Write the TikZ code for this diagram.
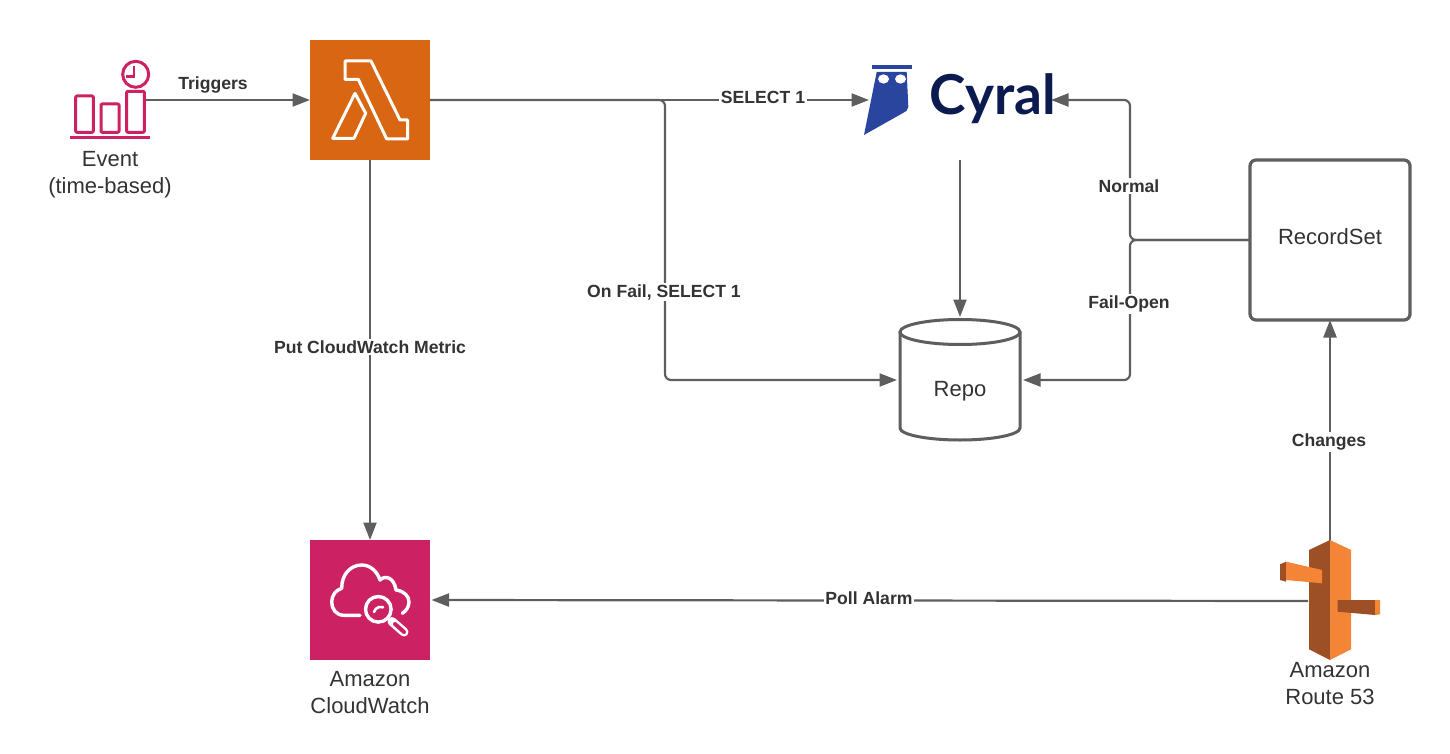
\documentclass[tikz,border=0pt]{standalone}
\usepackage{fontspec}
\setmainfont{Liberation Sans}
\newfontfamily\cyralfont{Lato}
\usetikzlibrary{arrows.meta}
\definecolor{linegrey}{HTML}{5E5E5E}
\definecolor{textgrey}{HTML}{333333}
\definecolor{lambdaorange}{HTML}{D86613}
\definecolor{awspink}{HTML}{CC2264}
\definecolor{rdark}{HTML}{9D5025}
\definecolor{rlight}{HTML}{F58536}
\definecolor{owlblue}{HTML}{2A459E}
\definecolor{cyralnavy}{HTML}{0B1B4F}
\tikzset{
  x=1pt,y=-1pt,
  conn/.style={draw=linegrey,line width=2.2pt,-{Triangle[length=17.5pt,width=13pt]}},
  turn/.style={conn,rounded corners=6pt},
  edgelabel/.style={font=\fontsize{17.6}{20}\selectfont\bfseries,text=textgrey,fill=white,inner sep=1.5pt},
  caption/.style={font=\fontsize{22}{27}\selectfont,text=textgrey,align=center,inner sep=0pt},
  anchorbox/.style={minimum width=#1,minimum height=120pt,inner sep=0pt,outer sep=0pt},
  iconline/.style={line width=3pt,line join=round},
  whiteline/.style={draw=white,line width=3pt,line join=round,line cap=round},
}
\begin{document}
\begin{tikzpicture}
\useasboundingbox (0,0) rectangle (1450,754);
% anchor nodes
\node[anchorbox=75pt,minimum height=80pt] (event) at (107.5,100) {};
\node[anchorbox=120pt,fill=lambdaorange] (lambda) at (370,100) {};
\node[anchorbox=120pt,fill=awspink] (cw) at (370,600) {};
\node[anchorbox=182pt] (cyral) at (960,100) {};
\node[anchorbox=126pt,minimum height=126pt] (repo) at (960,380) {};
\node[anchorbox=160pt,minimum height=160pt,draw=linegrey,line width=3.2pt,rounded corners=6pt,
      font=\fontsize{22}{27}\selectfont,text=textgrey] (recordset) at (1330,240) {\raisebox{6pt}{RecordSet}};
\node[anchorbox=44pt] (route) at (1330,601) {};
\coordinate (tapl) at (665,240);
\coordinate (tapr) at (1130,240);
% connectors
\draw[conn] (event.east) -- (lambda.west);
\draw[conn] (lambda.east) -- (cyral.west);
\draw[turn] (lambda.east) -| (tapl) |- (repo.west);
\draw[conn] (lambda.south) -- (cw.north);
\draw[conn] (cyral.south) -- (repo.north);
\draw[turn] (recordset.west) -- (tapr) |- (cyral.east);
\draw[turn] (recordset.west) -- (tapr) |- (repo.east);
\draw[conn] (route.north) -- (recordset.south);
\draw[conn] (route.west) -- ([xshift=1.5pt]cw.east);
% connector labels
\node[edgelabel,fill=none] (ltrig) at (213,85) {Triggers};
\node[edgelabel] (lsel) at (763,97) {SELECT 1};
\node[edgelabel] (lfail) at (664,292) {On Fail, SELECT 1};
\node[edgelabel] (lmetric) at (370,347) {Put CloudWatch Metric};
\node[edgelabel] (lpoll) at (869,598.5) {Poll Alarm};
\node[edgelabel] (lchg) at (1329,442) {Changes};
\node[edgelabel] (lnorm) at (1129,186) {Normal};
\node[edgelabel] (lopen) at (1129,304) {Fail-Open};
% event icon
\begin{scope}[draw=awspink,iconline,rounded corners=1pt]
  \draw (75.7,96) rectangle (93.3,132.3);
  \draw (101,104) rectangle (119,132.3);
  \draw (126.7,91.3) rectangle (144.3,132.3);
\end{scope}
\draw[awspink,line width=3pt] (70,138) -- (150,138);
\draw[awspink,line width=3pt] (135.7,74.3) circle (13);
\draw[awspink,line width=2.4pt] (134,66) -- (134,76.7) -- (126,76.7);
% lambda glyph
\draw[whiteline] (345,61) -- (371,61) -- (400,120) -- (407.7,120) -- (407.7,139) -- (386.7,139) -- (358.3,79.3) -- (345,79.3) -- cycle;
\draw[whiteline] (355,93.3) -- (365.7,113.3) -- (354,138.3) -- (332.7,138.3) -- cycle;
% cloudwatch glyph
\draw[white,line width=3.4pt,line cap=round,line join=round]
  (360,615.3) -- (344,615.3) .. controls (336,615.3) and (331.7,609) .. (331.7,602)
  .. controls (331.7,595) and (336,590) .. (341.7,588.3)
  .. controls (341.5,574) and (351,565) .. (361.7,565)
  .. controls (370,565) and (377,571) .. (380,580)
  .. controls (385,575) and (394,577) .. (396,590)
  .. controls (404,591) and (409,596) .. (409,602)
  .. controls (409,607) and (406,611) .. (402.3,613.3);
\draw[white,line width=3.4pt] (378.3,609.3) circle (12.8);
\draw[white,line width=2.6pt,line cap=round] (374,612) arc (195:290:7);
\draw[white,line width=9pt,line cap=round] (392,621.5) -- (404,632);
\draw[awspink,line width=4pt,line cap=round] (395,624) -- (404,632);
% route 53 glyph
\fill[rdark] (1309,550) -- (1330,540) -- (1330,660) -- (1309,649.3) -- cycle;
\fill[rlight] (1330,540) -- (1351,550) -- (1351,649.3) -- (1330,660) -- cycle;
\fill[rdark] (1280,564.3) -- (1286,561.7) -- (1286,581.7) -- (1280,580) -- cycle;
\fill[rlight] (1286,561.7) -- (1322,570) -- (1322,583.3) -- (1286,580) -- cycle;
\fill[rdark] (1337.7,600) -- (1375,600) -- (1375,615) -- (1337.7,611.7) -- cycle;
\fill[rlight] (1375,600) -- (1380,600) -- (1380,614.3) -- (1375,615) -- cycle;
% cyral logo
\fill[owlblue] (871.7,65) rectangle (912.3,69.5);
\fill[owlblue] (876.7,72) -- (906.7,72) -- (908.3,106.7) .. controls (908.3,110) and (906,112) .. (903,113) -- (864,135) -- cycle;
\fill[white] (883.5,79) ellipse (5.5 and 4.6) (900.5,79) ellipse (5.5 and 4.6);
\node[font=\fontsize{55}{60}\selectfont\cyralfont\bfseries,text=cyralnavy,inner sep=0pt,anchor=base west] (cyraltext) at (929.5,115) {Cyral};
% repo cylinder
\draw[linegrey,line width=3pt,fill=white] (900,332) -- (900,428) arc (180:0:60 and 12) -- (1020,332);
\draw[linegrey,line width=3pt] (960,332) ellipse (60 and 12.5);
\node[font=\fontsize{22}{27}\selectfont,text=textgrey,inner sep=0pt] (repotext) at (960,391) {Repo};
% captions
\node[caption] (capevent) at (110,174.5) {Event\\(time-based)};
\node[caption] (capcw) at (370,693) {Amazon\\CloudWatch};
\node[caption] (caproute) at (1330,683.5) {Amazon\\Route 53};
\end{tikzpicture}
\end{document}
